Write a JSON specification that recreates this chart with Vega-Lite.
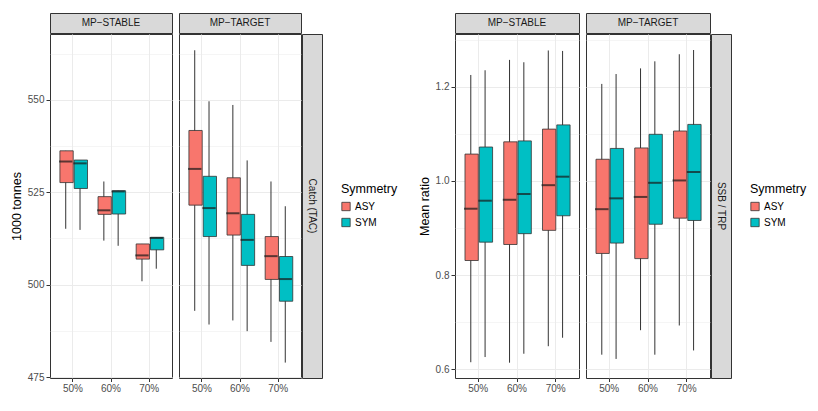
{
  "$schema": "https://vega.github.io/schema/vega-lite/v6.json",
  "padding": {"left": 9, "top": 12, "right": 0, "bottom": 0},
  "background": "white",
  "config": {
    "font": "Liberation Sans",
    "view": {"stroke": "#333333", "strokeWidth": 1}
  },
  "datasets": {
    "catch": [
      {"mp": "MP-STABLE", "pct": "50%", "sym": "ASY", "lo": 515.1, "q1": 527.6, "med": 533.3, "q3": 536.2, "hi": 536.2},
      {"mp": "MP-STABLE", "pct": "50%", "sym": "SYM", "lo": 514.8, "q1": 526.0, "med": 532.8, "q3": 533.7, "hi": 533.7},
      {"mp": "MP-STABLE", "pct": "60%", "sym": "ASY", "lo": 511.9, "q1": 519.0, "med": 520.1, "q3": 523.8, "hi": 527.9},
      {"mp": "MP-STABLE", "pct": "60%", "sym": "SYM", "lo": 510.5, "q1": 519.1, "med": 525.2, "q3": 525.4, "hi": 525.4},
      {"mp": "MP-STABLE", "pct": "70%", "sym": "ASY", "lo": 500.9, "q1": 506.9, "med": 507.9, "q3": 511.0, "hi": 511.0},
      {"mp": "MP-STABLE", "pct": "70%", "sym": "SYM", "lo": 504.3, "q1": 509.4, "med": 512.6, "q3": 512.8, "hi": 512.8},
      {"mp": "MP-TARGET", "pct": "50%", "sym": "ASY", "lo": 492.9, "q1": 521.5, "med": 531.3, "q3": 541.7, "hi": 563.4},
      {"mp": "MP-TARGET", "pct": "50%", "sym": "SYM", "lo": 489.2, "q1": 513.0, "med": 520.7, "q3": 529.3, "hi": 549.6},
      {"mp": "MP-TARGET", "pct": "60%", "sym": "ASY", "lo": 490.3, "q1": 513.4, "med": 519.3, "q3": 528.9, "hi": 548.6},
      {"mp": "MP-TARGET", "pct": "60%", "sym": "SYM", "lo": 487.4, "q1": 505.2, "med": 512.1, "q3": 519.0, "hi": 533.6},
      {"mp": "MP-TARGET", "pct": "70%", "sym": "ASY", "lo": 484.5, "q1": 501.4, "med": 507.7, "q3": 513.0, "hi": 527.9},
      {"mp": "MP-TARGET", "pct": "70%", "sym": "SYM", "lo": 478.9, "q1": 495.5, "med": 501.5, "q3": 507.6, "hi": 521.2}
    ],
    "ssb": [
      {"mp": "MP-STABLE", "pct": "50%", "sym": "ASY", "lo": 0.615, "q1": 0.831, "med": 0.941, "q3": 1.057, "hi": 1.225},
      {"mp": "MP-STABLE", "pct": "50%", "sym": "SYM", "lo": 0.626, "q1": 0.870, "med": 0.958, "q3": 1.072, "hi": 1.235},
      {"mp": "MP-STABLE", "pct": "60%", "sym": "ASY", "lo": 0.614, "q1": 0.865, "med": 0.960, "q3": 1.083, "hi": 1.257},
      {"mp": "MP-STABLE", "pct": "60%", "sym": "SYM", "lo": 0.633, "q1": 0.888, "med": 0.972, "q3": 1.085, "hi": 1.252},
      {"mp": "MP-STABLE", "pct": "70%", "sym": "ASY", "lo": 0.649, "q1": 0.895, "med": 0.991, "q3": 1.110, "hi": 1.277},
      {"mp": "MP-STABLE", "pct": "70%", "sym": "SYM", "lo": 0.667, "q1": 0.926, "med": 1.009, "q3": 1.119, "hi": 1.276},
      {"mp": "MP-TARGET", "pct": "50%", "sym": "ASY", "lo": 0.631, "q1": 0.846, "med": 0.940, "q3": 1.046, "hi": 1.206},
      {"mp": "MP-TARGET", "pct": "50%", "sym": "SYM", "lo": 0.622, "q1": 0.868, "med": 0.963, "q3": 1.069, "hi": 1.227},
      {"mp": "MP-TARGET", "pct": "60%", "sym": "ASY", "lo": 0.683, "q1": 0.835, "med": 0.966, "q3": 1.070, "hi": 1.239},
      {"mp": "MP-TARGET", "pct": "60%", "sym": "SYM", "lo": 0.631, "q1": 0.908, "med": 0.996, "q3": 1.099, "hi": 1.254},
      {"mp": "MP-TARGET", "pct": "70%", "sym": "ASY", "lo": 0.693, "q1": 0.921, "med": 1.001, "q3": 1.106, "hi": 1.269},
      {"mp": "MP-TARGET", "pct": "70%", "sym": "SYM", "lo": 0.640, "q1": 0.916, "med": 1.019, "q3": 1.120, "hi": 1.278}
    ]
  },
  "resolve": {"scale": {"color": "independent"}, "legend": {"color": "independent"}},
  "spacing": 19,
  "hconcat": [
    {
      "spacing": 5,
      "hconcat": [
        {
          "spacing": -2,
          "vconcat": [
            {
              "width": 122, "height": 20,
              "view": {"fill": "#D9D9D9", "stroke": "#333333"},
              "data": {"values": [{"label": "MP−STABLE"}]},
              "mark": {"type": "text", "fontSize": 10, "color": "#1A1A1A"},
              "encoding": {"text": {"field": "label"}}
            },
            {
              "width": 122, "height": 344,
              "data": {"name": "catch"},
              "transform": [{"filter": "datum.mp === 'MP-STABLE'"}],
              "encoding": {
                "x": {"field": "pct", "type": "nominal", "scale": {"domain": ["50%", "60%", "70%"], "paddingInner": 0, "paddingOuter": 0.1},
                  "axis": {"title": null, "grid": true, "gridColor": "#EBEBEB", "domain": false, "tickColor": "#333333", "tickSize": 3.5, "labelColor": "#4D4D4D", "labelFontSize": 10, "labelAngle": 0, "labelPadding": 2, "bandPosition": 0.5}},
                "xOffset": {"field": "sym", "type": "nominal", "scale": {"domain": ["ASY", "SYM"], "paddingInner": 0, "paddingOuter": 0.333}},
                "color": {"field": "sym", "type": "nominal", "scale": {"domain": ["ASY", "SYM"], "range": ["#F8766D", "#00BFC4"]},
                  "legend": {"title": "Symmetry", "orient": "none", "legendX": 291, "legendY": 170, "titleFontSize": 12.5, "titleFontWeight": "normal", "titleColor": "#000000", "titlePadding": 6, "labelFontSize": 10, "labelColor": "#000000", "symbolType": "square", "symbolSize": 70, "symbolStrokeColor": "#333333", "symbolStrokeWidth": 0.8, "rowPadding": 4, "labelOffset": 4, "padding": 0}}
              },
              "resolve": {"axis": {"y": "independent"}},
              "layer": [
                {
                  "mark": {"type": "rule", "strokeWidth": 1},
                  "encoding": {
                    "y": {"field": "lo", "type": "quantitative", "scale": {"domain": [474.73, 567.8], "nice": false, "zero": false},
                      "axis": {"values": [475, 500, 525, 550], "grid": true, "gridColor": "#EBEBEB", "gridWidth": 1, "domain": false, "tickColor": "#333333", "tickSize": 4, "labelColor": "#4D4D4D", "labelFontSize": 10, "labelPadding": 2, "title": "1000 tonnes", "titleFontSize": 12.5, "titleFontWeight": "normal", "titleColor": "#000000", "titlePadding": 4}},
                    "y2": {"field": "hi"},
                    "color": {"value": "#333333"}
                  }
                },
                {
                  "mark": {"type": "bar", "width": {"band": 0.93}, "stroke": "#333333", "strokeWidth": 0.8},
                  "encoding": {
                    "y": {"field": "q1", "type": "quantitative", "axis": null},
                    "y2": {"field": "q3"}
                  }
                },
                {
                  "mark": {"type": "tick", "thickness": 2, "size": 13.3},
                  "encoding": {
                    "y": {"field": "med", "type": "quantitative",
                      "axis": {"orient": "right", "values": [487.5, 512.5, 537.5, 562.5], "grid": true, "gridColor": "#EBEBEB", "gridWidth": 0.5, "domain": false, "ticks": false, "labels": false, "title": null}},
                    "color": {"value": "#1A1A1A"}
                  }
                }
              ]
            }
          ]
        },
        {
          "spacing": -2,
          "vconcat": [
            {
              "width": 122, "height": 20,
              "view": {"fill": "#D9D9D9", "stroke": "#333333"},
              "data": {"values": [{"label": "MP−TARGET"}]},
              "mark": {"type": "text", "fontSize": 10, "color": "#1A1A1A"},
              "encoding": {"text": {"field": "label"}}
            },
            {
              "spacing": -2,
              "hconcat": [
                {
                  "width": 122, "height": 344,
                  "data": {"name": "catch"},
                  "transform": [{"filter": "datum.mp === 'MP-TARGET'"}],
                  "encoding": {
                    "x": {"field": "pct", "type": "nominal", "scale": {"domain": ["50%", "60%", "70%"], "paddingInner": 0, "paddingOuter": 0.1},
                      "axis": {"title": null, "grid": true, "gridColor": "#EBEBEB", "domain": false, "tickColor": "#333333", "tickSize": 3.5, "labelColor": "#4D4D4D", "labelFontSize": 10, "labelAngle": 0, "labelPadding": 2, "bandPosition": 0.5}},
                    "xOffset": {"field": "sym", "type": "nominal", "scale": {"domain": ["ASY", "SYM"], "paddingInner": 0, "paddingOuter": 0.333}},
                    "color": {"field": "sym", "type": "nominal", "scale": {"domain": ["ASY", "SYM"], "range": ["#F8766D", "#00BFC4"]},
                      "legend": {"title": "Symmetry", "orient": "none", "legendX": 291, "legendY": 170, "titleFontSize": 12.5, "titleFontWeight": "normal", "titleColor": "#000000", "titlePadding": 6, "labelFontSize": 10, "labelColor": "#000000", "symbolType": "square", "symbolSize": 70, "symbolStrokeColor": "#333333", "symbolStrokeWidth": 0.8, "rowPadding": 4, "labelOffset": 4, "padding": 0}}
                  },
                  "resolve": {"axis": {"y": "independent"}},
                  "layer": [
                    {
                      "mark": {"type": "rule", "strokeWidth": 1},
                      "encoding": {
                        "y": {"field": "lo", "type": "quantitative", "scale": {"domain": [474.73, 567.8], "nice": false, "zero": false},
                          "axis": {"values": [475, 500, 525, 550], "grid": true, "gridColor": "#EBEBEB", "gridWidth": 1, "domain": false, "ticks": false, "labels": false, "title": null}},
                        "y2": {"field": "hi"},
                        "color": {"value": "#333333"}
                      }
                    },
                    {
                      "mark": {"type": "bar", "width": {"band": 0.93}, "stroke": "#333333", "strokeWidth": 0.8},
                      "encoding": {
                        "y": {"field": "q1", "type": "quantitative", "axis": null},
                        "y2": {"field": "q3"}
                      }
                    },
                    {
                      "mark": {"type": "tick", "thickness": 2, "size": 13.3},
                      "encoding": {
                        "y": {"field": "med", "type": "quantitative",
                          "axis": {"orient": "right", "values": [487.5, 512.5, 537.5, 562.5], "grid": true, "gridColor": "#EBEBEB", "gridWidth": 0.5, "domain": false, "ticks": false, "labels": false, "title": null}},
                        "color": {"value": "#1A1A1A"}
                      }
                    }
                  ]
                },
                {
                  "width": 20, "height": 344,
                  "view": {"fill": "#D9D9D9", "stroke": "#333333"},
                  "data": {"values": [{"label": "Catch (TAC)"}]},
                  "mark": {"type": "text", "fontSize": 10, "color": "#1A1A1A", "angle": 90},
                  "encoding": {"text": {"field": "label"}}
                }
              ]
            }
          ]
        }
      ]
    },
    {
      "spacing": 5,
      "hconcat": [
        {
          "spacing": -2,
          "vconcat": [
            {
              "width": 124, "height": 20,
              "view": {"fill": "#D9D9D9", "stroke": "#333333"},
              "data": {"values": [{"label": "MP−STABLE"}]},
              "mark": {"type": "text", "fontSize": 10, "color": "#1A1A1A"},
              "encoding": {"text": {"field": "label"}}
            },
            {
              "width": 124, "height": 344,
              "data": {"name": "ssb"},
              "transform": [{"filter": "datum.mp === 'MP-STABLE'"}],
              "encoding": {
                "x": {"field": "pct", "type": "nominal", "scale": {"domain": ["50%", "60%", "70%"], "paddingInner": 0, "paddingOuter": 0.1},
                  "axis": {"title": null, "grid": true, "gridColor": "#EBEBEB", "domain": false, "tickColor": "#333333", "tickSize": 3.5, "labelColor": "#4D4D4D", "labelFontSize": 10, "labelAngle": 0, "labelPadding": 2, "bandPosition": 0.5}},
                "xOffset": {"field": "sym", "type": "nominal", "scale": {"domain": ["ASY", "SYM"], "paddingInner": 0, "paddingOuter": 0.333}},
                "color": {"field": "sym", "type": "nominal", "scale": {"domain": ["ASY", "SYM"], "range": ["#F8766D", "#00BFC4"]},
                  "legend": {"title": "Symmetry", "orient": "none", "legendX": 295, "legendY": 170, "titleFontSize": 12.5, "titleFontWeight": "normal", "titleColor": "#000000", "titlePadding": 6, "labelFontSize": 10, "labelColor": "#000000", "symbolType": "square", "symbolSize": 70, "symbolStrokeColor": "#333333", "symbolStrokeWidth": 0.8, "rowPadding": 4, "labelOffset": 4, "padding": 0}}
              },
              "resolve": {"axis": {"y": "independent"}},
              "layer": [
                {
                  "mark": {"type": "rule", "strokeWidth": 1},
                  "encoding": {
                    "y": {"field": "lo", "type": "quantitative", "scale": {"domain": [0.5815, 1.312], "nice": false, "zero": false},
                      "axis": {"values": [0.6, 0.8, 1.0, 1.2], "format": ".1f", "grid": true, "gridColor": "#EBEBEB", "gridWidth": 1, "domain": false, "tickColor": "#333333", "tickSize": 4, "labelColor": "#4D4D4D", "labelFontSize": 10, "labelPadding": 2, "title": "Mean ratio", "titleFontSize": 12.5, "titleFontWeight": "normal", "titleColor": "#000000", "titlePadding": 4}},
                    "y2": {"field": "hi"},
                    "color": {"value": "#333333"}
                  }
                },
                {
                  "mark": {"type": "bar", "width": {"band": 0.93}, "stroke": "#333333", "strokeWidth": 0.8},
                  "encoding": {
                    "y": {"field": "q1", "type": "quantitative", "axis": null},
                    "y2": {"field": "q3"}
                  }
                },
                {
                  "mark": {"type": "tick", "thickness": 2, "size": 13.5},
                  "encoding": {
                    "y": {"field": "med", "type": "quantitative",
                      "axis": {"orient": "right", "values": [0.7, 0.9, 1.1, 1.3], "grid": true, "gridColor": "#EBEBEB", "gridWidth": 0.5, "domain": false, "ticks": false, "labels": false, "title": null}},
                    "color": {"value": "#1A1A1A"}
                  }
                }
              ]
            }
          ]
        },
        {
          "spacing": -2,
          "vconcat": [
            {
              "width": 124, "height": 20,
              "view": {"fill": "#D9D9D9", "stroke": "#333333"},
              "data": {"values": [{"label": "MP−TARGET"}]},
              "mark": {"type": "text", "fontSize": 10, "color": "#1A1A1A"},
              "encoding": {"text": {"field": "label"}}
            },
            {
              "spacing": -2,
              "hconcat": [
                {
                  "width": 124, "height": 344,
                  "data": {"name": "ssb"},
                  "transform": [{"filter": "datum.mp === 'MP-TARGET'"}],
                  "encoding": {
                    "x": {"field": "pct", "type": "nominal", "scale": {"domain": ["50%", "60%", "70%"], "paddingInner": 0, "paddingOuter": 0.1},
                      "axis": {"title": null, "grid": true, "gridColor": "#EBEBEB", "domain": false, "tickColor": "#333333", "tickSize": 3.5, "labelColor": "#4D4D4D", "labelFontSize": 10, "labelAngle": 0, "labelPadding": 2, "bandPosition": 0.5}},
                    "xOffset": {"field": "sym", "type": "nominal", "scale": {"domain": ["ASY", "SYM"], "paddingInner": 0, "paddingOuter": 0.333}},
                    "color": {"field": "sym", "type": "nominal", "scale": {"domain": ["ASY", "SYM"], "range": ["#F8766D", "#00BFC4"]},
                      "legend": {"title": "Symmetry", "orient": "none", "legendX": 295, "legendY": 170, "titleFontSize": 12.5, "titleFontWeight": "normal", "titleColor": "#000000", "titlePadding": 6, "labelFontSize": 10, "labelColor": "#000000", "symbolType": "square", "symbolSize": 70, "symbolStrokeColor": "#333333", "symbolStrokeWidth": 0.8, "rowPadding": 4, "labelOffset": 4, "padding": 0}}
                  },
                  "resolve": {"axis": {"y": "independent"}},
                  "layer": [
                    {
                      "mark": {"type": "rule", "strokeWidth": 1},
                      "encoding": {
                        "y": {"field": "lo", "type": "quantitative", "scale": {"domain": [0.5815, 1.312], "nice": false, "zero": false},
                          "axis": {"values": [0.6, 0.8, 1.0, 1.2], "grid": true, "gridColor": "#EBEBEB", "gridWidth": 1, "domain": false, "ticks": false, "labels": false, "title": null}},
                        "y2": {"field": "hi"},
                        "color": {"value": "#333333"}
                      }
                    },
                    {
                      "mark": {"type": "bar", "width": {"band": 0.93}, "stroke": "#333333", "strokeWidth": 0.8},
                      "encoding": {
                        "y": {"field": "q1", "type": "quantitative", "axis": null},
                        "y2": {"field": "q3"}
                      }
                    },
                    {
                      "mark": {"type": "tick", "thickness": 2, "size": 13.5},
                      "encoding": {
                        "y": {"field": "med", "type": "quantitative",
                          "axis": {"orient": "right", "values": [0.7, 0.9, 1.1, 1.3], "grid": true, "gridColor": "#EBEBEB", "gridWidth": 0.5, "domain": false, "ticks": false, "labels": false, "title": null}},
                        "color": {"value": "#1A1A1A"}
                      }
                    }
                  ]
                },
                {
                  "width": 20, "height": 344,
                  "view": {"fill": "#D9D9D9", "stroke": "#333333"},
                  "data": {"values": [{"label": "SSB / TRP"}]},
                  "mark": {"type": "text", "fontSize": 10, "color": "#1A1A1A", "angle": 90},
                  "encoding": {"text": {"field": "label"}}
                }
              ]
            }
          ]
        }
      ]
    }
  ]
}
